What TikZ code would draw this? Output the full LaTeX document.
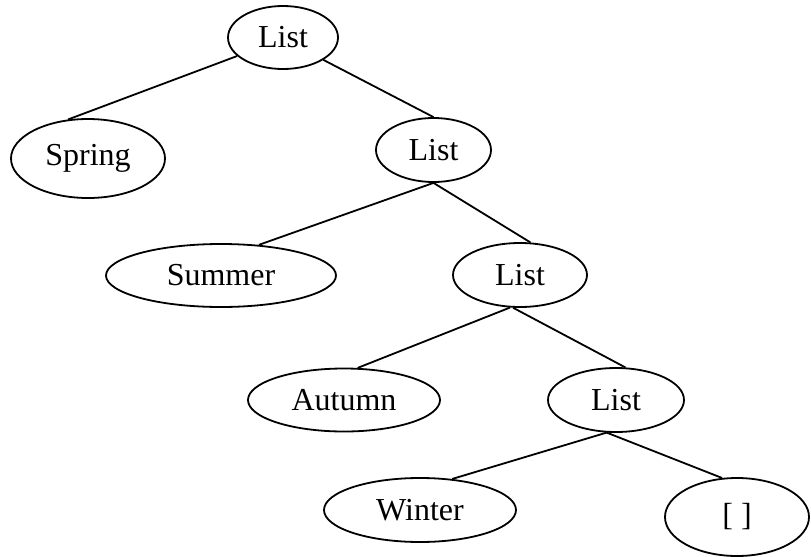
\documentclass[tikz,border=0pt]{standalone}
\usepackage{fontspec}
\setmainfont{Liberation Serif}
\usetikzlibrary{shapes.geometric}
\begin{document}
\begin{tikzpicture}[x=0.75pt,y=-0.75pt,
  ell/.style 2 args={ellipse,draw,line width=1.35pt,inner sep=0pt,
    minimum width=#1*0.75pt,minimum height=#2*0.75pt,
    font=\fontsize{24}{28}\selectfont},
  edge/.style={line width=1.35pt}]
\useasboundingbox (0,0) rectangle (811,557);
\node[ell={110}{63}] (top) at (283,37.5) {List};
\node[ell={154}{79}] (spring) at (88,158.5) {Spring};
\node[ell={115}{64}] (list2) at (433.5,150) {List};
\node[ell={230}{63}] (summer) at (221,275.5) {Summer};
\node[ell={134}{64}] (list3) at (520,275) {List};
\node[ell={192}{63}] (autumn) at (344,400) {Autumn};
\node[ell={136}{64}] (list4) at (616,400) {List};
\node[ell={192}{64}] (winter) at (420,510) {Winter};
\node[ell={144}{78}] (nil) at (737,517) {[ ]};
\draw[edge] (top.202) -- (spring.117);
\draw[edge] (top.331) -- (list2.north);
\draw[edge] (list2.south) -- (summer.39);
\draw[edge] (list2.south) -- (list3.72);
\draw[edge] (list3.253) -- (autumn.67);
\draw[edge] (list3.258) -- (list4.74);
\draw[edge] (list4.254) -- (winter.44);
\draw[edge] (list4.254) -- (nil.111);
\end{tikzpicture}
\end{document}
